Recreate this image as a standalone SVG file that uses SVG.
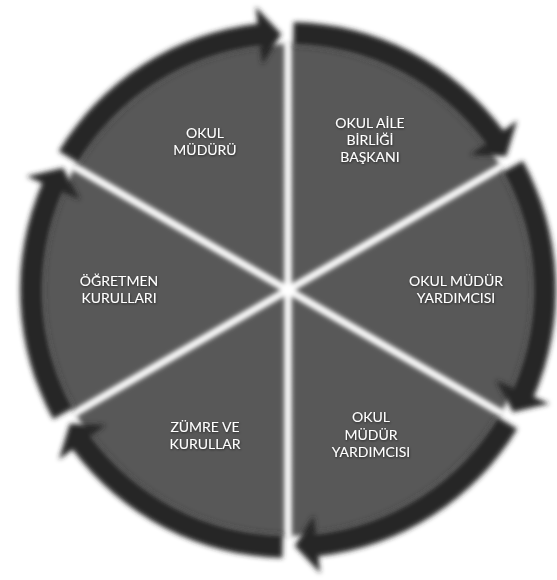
<svg xmlns="http://www.w3.org/2000/svg" xmlns:xlink="http://www.w3.org/1999/xlink" width="557" height="580" viewBox="0 0 557 580">
<style>
.w{fill:#595959}
.a{fill:#282828}
.d{stroke:#ffffff;stroke-width:7;fill:none}
.t{font-family:Lato,"Open Sans","Liberation Sans",sans-serif;font-size:14px;fill:#ffffff;text-anchor:middle}
</style>
<defs>
<filter id="soft" x="-15%" y="-15%" width="130%" height="130%"><feGaussianBlur stdDeviation="2.7"/></filter>
<filter id="ts" x="-20%" y="-40%" width="140%" height="180%"><feDropShadow dx="0.5" dy="1" stdDeviation="1.2" flood-color="#000000" flood-opacity="0.55"/></filter>
<path id="wedge" d="M0,0 L0,-246 A246,246 0 0 1 213.04,-123 Z"/>
<path id="arc" d="M5.61,-267.94 A268,268 0 0 1 215.43,-159.41 L229.10,-169.52 L218.28,-133.76 L182.48,-135.02 L196.14,-145.14 A244,244 0 0 0 5.11,-243.95 Z"/>
</defs>
<rect width="557" height="580" fill="#ffffff"/>
<g id="node-aile">
<use xlink:href="#wedge" class="w" filter="url(#soft)" transform="translate(288,290) rotate(0)"/>
<text class="t" filter="url(#ts)"><tspan x="370" y="128">OKUL AİLE</tspan><tspan x="370" y="145.2">BİRLİĞİ</tspan><tspan x="370" y="162.4">BAŞKANI</tspan></text>
</g>
<g id="node-yardimci1">
<use xlink:href="#wedge" class="w" filter="url(#soft)" transform="translate(288,290) rotate(60)"/>
<text class="t" filter="url(#ts)"><tspan x="456" y="286">OKUL MÜDÜR</tspan><tspan x="456" y="303">YARDIMCISI</tspan></text>
</g>
<g id="node-yardimci2">
<use xlink:href="#wedge" class="w" filter="url(#soft)" transform="translate(288,290) rotate(120)"/>
<text class="t" filter="url(#ts)"><tspan x="371" y="422">OKUL</tspan><tspan x="371" y="439.5">MÜDÜR</tspan><tspan x="371" y="457">YARDIMCISI</tspan></text>
</g>
<g id="node-zumre">
<use xlink:href="#wedge" class="w" filter="url(#soft)" transform="translate(288,290) rotate(180)"/>
<text class="t" filter="url(#ts)"><tspan x="205" y="432">ZÜMRE VE</tspan><tspan x="205" y="449">KURULLAR</tspan></text>
</g>
<g id="node-ogretmen">
<use xlink:href="#wedge" class="w" filter="url(#soft)" transform="translate(288,290) rotate(240)"/>
<text class="t" filter="url(#ts)"><tspan x="119" y="286">ÖĞRETMEN</tspan><tspan x="119" y="303">KURULLARI</tspan></text>
</g>
<g id="node-mudur">
<use xlink:href="#wedge" class="w" filter="url(#soft)" transform="translate(288,290) rotate(300)"/>
<text class="t" filter="url(#ts)"><tspan x="205" y="138">OKUL</tspan><tspan x="205" y="155.2">MÜDÜRÜ</tspan></text>
</g>
<g id="dividers" filter="url(#soft)" transform="translate(288,290)">
<line class="d" x1="0" y1="0" x2="0" y2="-250"/>
<line class="d" x1="0" y1="0" x2="216.5" y2="-125"/>
<line class="d" x1="0" y1="0" x2="216.5" y2="125"/>
<line class="d" x1="0" y1="0" x2="0" y2="250"/>
<line class="d" x1="0" y1="0" x2="-216.5" y2="125"/>
<line class="d" x1="0" y1="0" x2="-216.5" y2="-125"/>
<circle cx="0" cy="0" r="7" fill="#ffffff"/>
</g>
<g id="connectors" filter="url(#soft)" transform="translate(288,290)">
<use xlink:href="#arc" class="a"/>
<use xlink:href="#arc" class="a" transform="rotate(60)"/>
<use xlink:href="#arc" class="a" transform="rotate(120)"/>
<use xlink:href="#arc" class="a" transform="rotate(180)"/>
<use xlink:href="#arc" class="a" transform="rotate(240)"/>
<use xlink:href="#arc" class="a" transform="rotate(300)"/>
</g>
</svg>
